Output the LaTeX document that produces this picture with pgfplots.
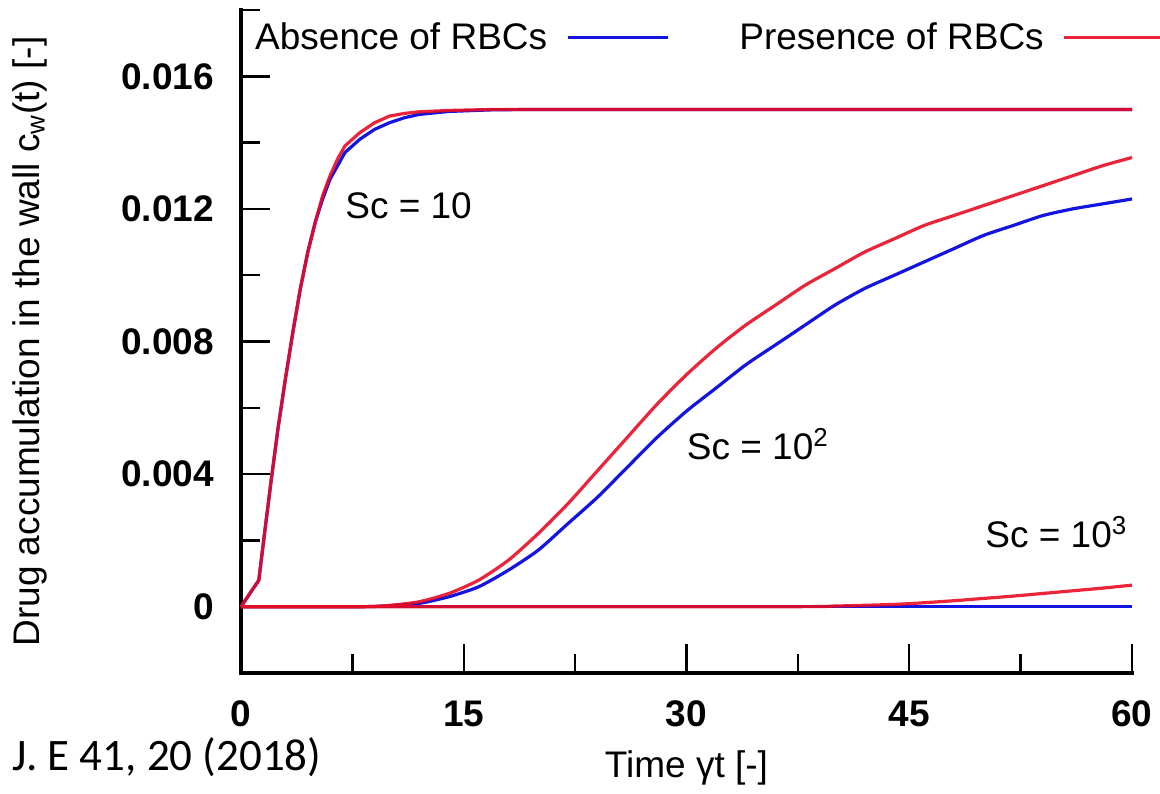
\documentclass[border=0pt]{standalone}
\usepackage{pgfplots}
\pgfplotsset{compat=1.18}
\usepackage{fontspec}
\setmainfont{Liberation Sans}
\newfontfamily\carlito{Carlito}
\definecolor{cblue}{RGB}{20,20,225}
\definecolor{cred}{RGB}{232,12,36}
\newcommand{\bigf}{\fontsize{18.5}{21}\selectfont}
\begin{document}
\begin{tikzpicture}
\useasboundingbox (-120.5pt,-60pt) rectangle (459.5pt,336.5pt);
\begin{axis}[
  at={(0pt,0pt)}, anchor=south west,
  scale only axis, width=445.5pt, height=331.5pt,
  xmin=0, xmax=60, ymin=-0.002, ymax=0.018,
  axis x line=bottom, axis y line=left,
  axis line style={-, line width=2pt, line cap=rect},
  tick align=inside,
  major tick length=14.5pt, minor tick length=9.5pt,
  tick style={black, line width=1.2pt},
  minor tick style={black, line width=1.2pt},
  xtick={0,15,30,45,60}, xticklabels={0,15,30,45,60},
  minor xtick={7.5,22.5,37.5,52.5},
  ytick={0,0.004,0.008,0.012,0.016}, yticklabels={0,0.004,0.008,0.012,0.016},
  minor ytick={0.002,0.006,0.010,0.014,0.018},
  scaled y ticks=false,
  /pgf/number format/assume math mode=true,
  ticklabel style={font=\bfseries\bigf},
  yticklabel style={anchor=east, xshift=-10pt},
  xticklabel style={anchor=north, yshift=-10.5pt},
  every axis y label/.style={at={(axis description cs:-0.237,0.5)}, rotate=90, anchor=center, font=\bigf},
  every axis x label/.style={at={(axis description cs:0.5,-0.143)}, anchor=center, font=\bigf},
  xlabel={Time γt [-]},
  ylabel={Drug accumulation in the wall c\textsubscript{w}(t) [-]},
  legend plot pos=right,
  legend image code/.code={\path (0pt,0pt); \draw[#1] (7.5pt,0pt) -- (57.5pt,0pt);},
  legend style={draw=none, fill=none, font=\bigf, legend columns=2, inner sep=0pt,
    at={(axis description cs:0.011,0.988)}, anchor=north west,
    /tikz/every even column/.append style={column sep=33pt}},
  clip=false,
]
% Absence of RBCs (blue)
\addplot[cblue, line width=1.6pt] coordinates {
(0,0) (0.6,0.0004) (1.2,0.0008) (1.5,0.0019) (2,0.0037) (2.5,0.0054) (3,0.0069)
(3.5,0.0083) (4,0.0096) (4.5,0.0107) (5,0.0116) (5.5,0.0123) (6,0.0129) (6.5,0.0133)
(7,0.0137) (8,0.0141) (9,0.0144) (10,0.0146) (11,0.01475) (12,0.01485) (14,0.01494)
(17,0.01499) (20,0.0150) (60,0.0150)};
\addlegendentry{Absence of RBCs}
\addplot[cblue, line width=1.6pt, smooth, tension=0.4, forget plot] coordinates {
(0,0) (8,0) (10,0.00003) (12,0.0001) (14,0.0003) (16,0.0006) (18,0.0011) (20,0.0017)
(22,0.0025) (24,0.0033) (26,0.0042) (28,0.0051) (30,0.0059) (32,0.0066) (34,0.0073)
(36,0.0079) (38,0.0085) (40,0.0091) (42,0.0096) (44,0.0100) (46,0.0104) (48,0.0108)
(50,0.0112) (52,0.0115) (54,0.0118) (56,0.0120) (58,0.01215) (60,0.0123)};
\addplot[cblue, line width=1.6pt, forget plot] coordinates {(0,0) (30,0) (60,0)};
% Presence of RBCs (red)
\addplot[cred, line width=1.6pt, opacity=0.9] coordinates {
(0,0) (0.6,0.0004) (1.2,0.0008) (1.5,0.0019) (2,0.0037) (2.5,0.0054) (3,0.0069)
(3.5,0.0083) (4,0.0096) (4.5,0.0107) (5,0.0116) (5.5,0.0124) (6,0.0130) (6.5,0.0135)
(7,0.0139) (8,0.0143) (9,0.0146) (10,0.0148) (11,0.01488) (12,0.01493) (14,0.01497)
(17,0.0150) (20,0.0150) (60,0.0150)};
\addlegendentry{Presence of RBCs}
\addplot[cred, line width=1.6pt, opacity=0.9, smooth, tension=0.4, forget plot] coordinates {
(0,0) (8,0) (10,0.00004) (12,0.00015) (14,0.0004) (16,0.0008) (18,0.0014) (20,0.0022)
(22,0.0031) (24,0.0041) (26,0.0051) (28,0.0061) (30,0.0070) (32,0.0078) (34,0.0085)
(36,0.0091) (38,0.0097) (40,0.0102) (42,0.0107) (44,0.0111) (46,0.0115) (48,0.0118)
(50,0.0121) (52,0.0124) (54,0.0127) (56,0.0130) (58,0.0133) (60,0.01355)};
\addplot[cred, line width=1.6pt, opacity=0.9, smooth, tension=0.4, forget plot] coordinates {
(0,0) (36,0) (40,0.00002) (44,0.00007) (46,0.00012) (48,0.00018) (50,0.00025)
(52,0.00032) (54,0.0004) (56,0.00048) (58,0.00056) (60,0.00065)};
\node[anchor=base west, font=\bigf, inner sep=0pt] at (axis cs:7.0,0.0117) {Sc = 10};
\node[anchor=base west, font=\bigf, inner sep=0pt] at (axis cs:30.0,0.00444) {Sc = 10\textsuperscript{2}};
\node[anchor=base west, font=\bigf, inner sep=0pt] at (axis cs:50.1,0.0018) {Sc = 10\textsuperscript{3}};
\node[anchor=base west, font=\carlito\fontsize{22.5}{26}\selectfont, inner sep=0pt]
  at (axis description cs:-0.257,-0.1463) {J. E 41, 20 (2018)};
\end{axis}
\end{tikzpicture}
\end{document}
